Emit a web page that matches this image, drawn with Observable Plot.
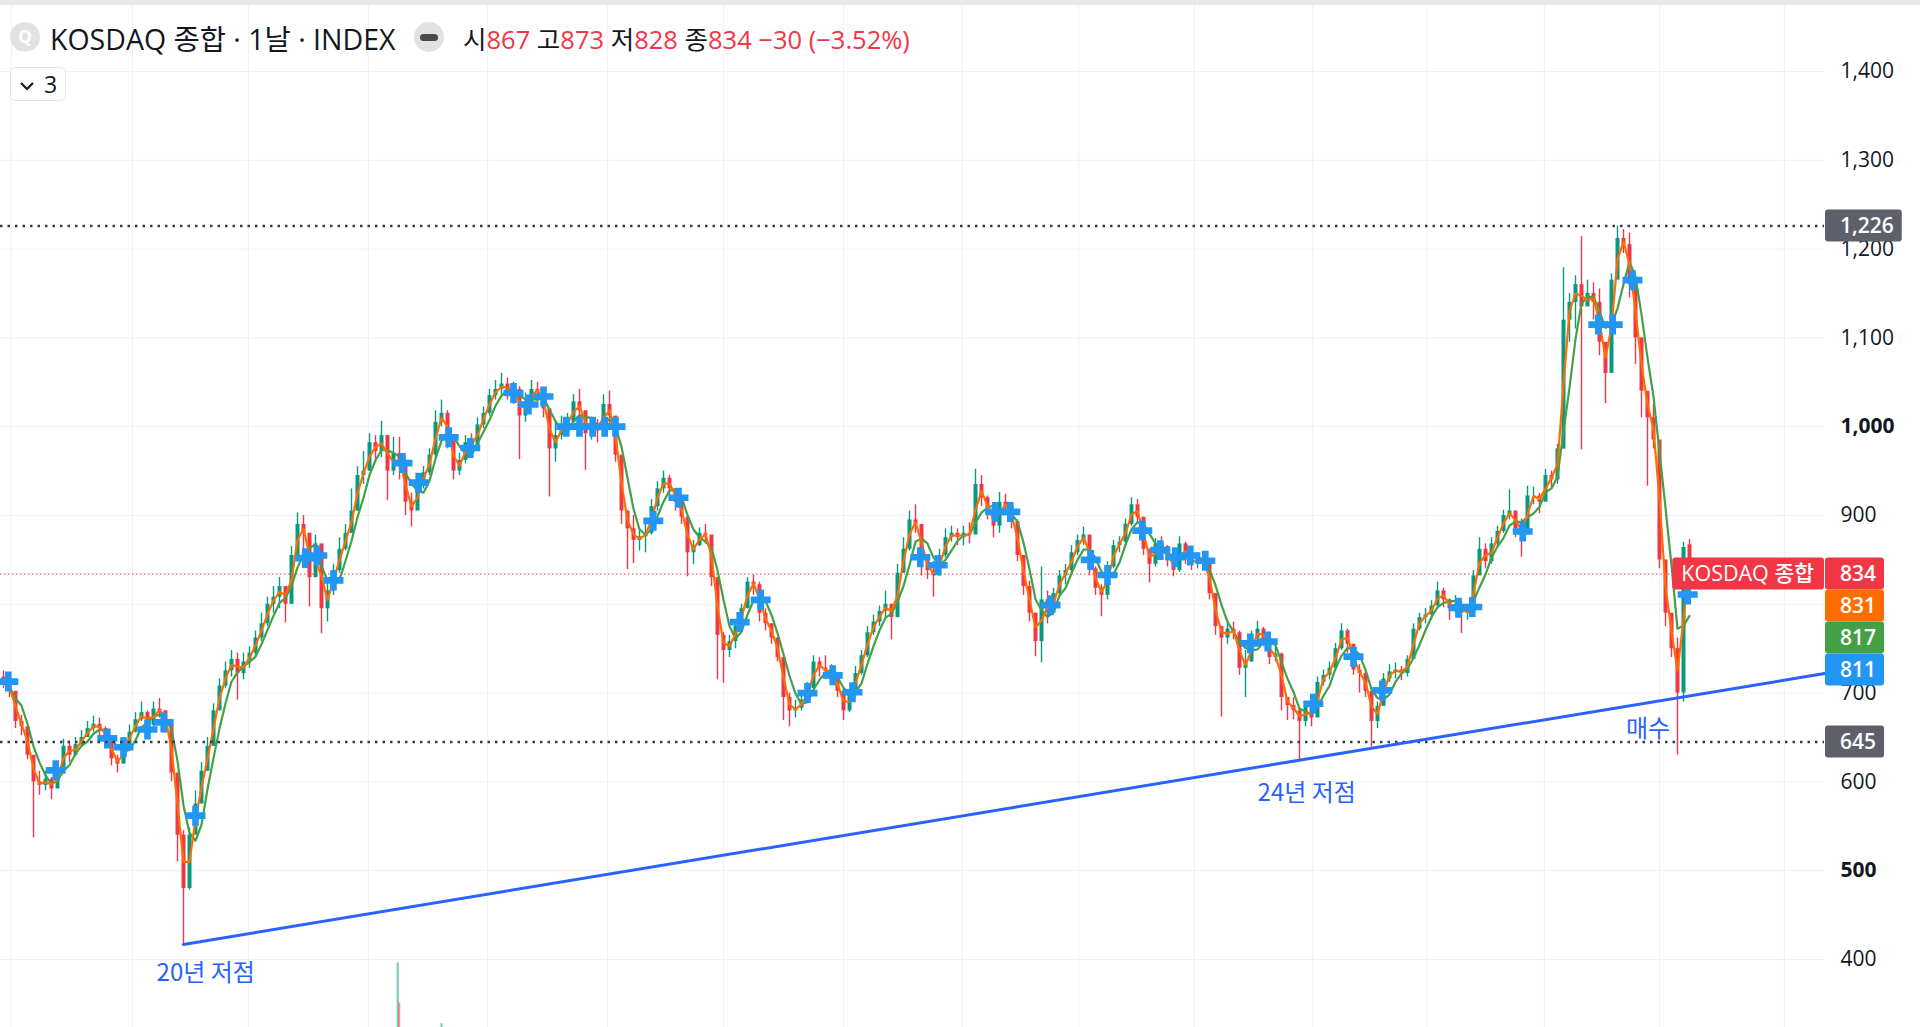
<!DOCTYPE html>
<html>
<head>
<meta charset="utf-8">
<script src="https://cdn.jsdelivr.net/npm/d3@7"></script>
<script src="https://cdn.jsdelivr.net/npm/@observablehq/plot@0.6"></script>
<style>
  html, body { margin: 0; padding: 0; background: #ffffff; overflow: hidden; }
  #wrap { position: relative; width: 1920px; height: 1027px; overflow: hidden; background: #fff;
          font-family: "Open Sans", "Noto Sans CJK KR", sans-serif; color: #131722; }
  #wrap > svg { position: absolute; left: 0; top: 0; }
  .abs { position: absolute; }
  .topband { left: 0; top: 0; width: 1920px; height: 5px; background: #e8e8e8; z-index: 5; }
  .qicon { left: 10px; top: 22px; width: 30px; height: 30px; border-radius: 50%; background: #e2e2e2;
           color: #fff; font-weight: 700; font-size: 17px; line-height: 30px; text-align: center; z-index: 5; }
  .name { left: 50px; top: 37px; transform: translateY(-50%); font-size: 28.5px; white-space: nowrap; z-index: 5; }
  .minus { left: 414px; top: 22px; width: 30px; height: 30px; border-radius: 50%; background: #e2e2e2; z-index: 5; }
  .minus::after { content: ""; position: absolute; left: 6px; top: 12px; width: 18px; height: 7px; border-radius: 4px; background: #4a4a4a; }
  .ohlc { left: 463px; top: 37px; transform: translateY(-50%); font-size: 25.5px; white-space: nowrap; z-index: 5; }
  .ohlc .r { color: #F23645; }
  .legend { left: 10px; top: 67px; width: 56px; height: 34px; border: 1px solid #e0e3eb; border-radius: 5px;
            background: #fff; z-index: 5; box-sizing: border-box; }
  .legend svg { position: absolute; left: 8px; top: 12px; }
  .legend span { position: absolute; left: 33px; top: 50%; transform: translateY(-50%); font-size: 23px; }
</style>
</head>
<body>
<div id="wrap">
  <div class="abs topband"></div>
  <div class="abs qicon">Q</div>
  <div class="abs name">KOSDAQ 종합 · 1날 · INDEX</div>
  <div class="abs minus"></div>
  <div class="abs ohlc">시<span class="r">867</span> 고<span class="r">873</span> 저<span class="r">828</span> 종<span class="r">834</span> <span class="r">−30 (−3.52%)</span></div>
  <div class="abs legend"><svg width="16" height="12"><polyline points="2,3 8,9 14,3" fill="none" stroke="#131722" stroke-width="2.2"/></svg><span>3</span></div>
</div>
<script>
// ---------- DATA (one value per ~5 trading days) ----------
const firstOpen = 718;
const lastOpen = 867;

const closes = [
  712, 702, 668, 662, 630, 600, 596, 603, 592, 614,
  640, 630, 642, 650, 660, 665, 660, 648, 626, 620,
  642, 656, 670, 678, 664, 682, 680, 664, 610, 540,
  480, 540, 575, 612, 640, 680, 708, 725, 738, 722,
  735, 745, 762, 778, 800, 808, 820, 800, 855, 890,
  880, 830, 868, 795, 815, 838, 862, 880, 905, 945,
  950, 982, 972, 990, 950, 970, 955, 915, 905, 935,
  948, 968, 1005, 1015, 985, 950, 962, 982, 978, 1002,
  1015, 1035, 1042, 1048, 1040, 1042, 1012, 1028, 1042, 1040,
  1020, 975, 990, 1002, 1005, 1028, 1018, 992, 1002, 995,
  1025, 1012, 968, 905, 885, 872, 876, 880, 910, 930,
  942, 930, 915, 898, 858, 866, 880, 878, 830, 765,
  748, 758, 775, 795, 825, 822, 790, 778, 762, 740,
  695, 680, 683, 692, 705, 735, 728, 724, 718, 702,
  680, 700, 722, 742, 768, 780, 792, 800, 785, 835,
  862, 895, 890, 850, 838, 832, 855, 875, 880, 875,
  880, 878, 935, 920, 902, 888, 915, 910, 893, 855,
  820, 790, 758, 805, 790, 812, 832, 838, 858, 872,
  878, 840, 818, 810, 842, 866, 870, 890, 912, 898,
  862, 845, 868, 865, 850, 838, 868, 852, 846, 850,
  848, 812, 775, 762, 772, 768, 728, 735, 762, 772,
  760, 740, 744, 695, 686, 680, 668, 684, 672, 712,
  720, 728, 750, 770, 755, 726, 722, 702, 668, 685,
  716, 724, 726, 722, 738, 772, 785, 788, 798, 815,
  805, 795, 800, 790, 792, 832, 862, 848, 868, 882,
  900, 905, 885, 880, 922, 922, 915, 945, 940, 975,
  1120, 1140, 1160, 1135, 1150, 1140, 1095, 1060, 1165, 1212,
  1205, 1160, 1100, 1040, 1010, 985, 850, 790, 750, 700,
  864, 834
];

const highs = [
  725, 714, 700, 675, 662, 625, 612, 612, 605, 622,
  648, 646, 650, 658, 668, 674, 672, 662, 642, 630,
  650, 664, 678, 690, 680, 690, 694, 680, 645, 605,
  545, 548, 590, 622, 650, 688, 716, 735, 748, 745,
  745, 752, 770, 790, 808, 820, 830, 815, 865, 903,
  900, 880, 878, 865, 830, 845, 875, 890, 930, 955,
  972, 992, 990, 1006, 990, 988, 988, 950, 925, 945,
  955, 975, 1018, 1030, 1018, 985, 970, 990, 992, 1010,
  1022, 1042, 1052, 1060, 1055, 1050, 1045, 1038, 1052, 1050,
  1042, 1020, 1005, 1012, 1015, 1036, 1042, 1015, 1010, 1008,
  1036, 1040, 1000, 960, 905, 900, 885, 890, 918, 938,
  950, 945, 930, 912, 895, 872, 886, 890, 872, 800,
  768, 765, 780, 800, 830, 833, 825, 795, 778, 762,
  740, 700, 692, 698, 712, 742, 740, 742, 732, 720,
  705, 705, 730, 748, 775, 788, 798, 815, 800, 845,
  875, 905, 912, 888, 852, 848, 862, 885, 888, 885,
  888, 892, 952, 945, 922, 905, 926, 924, 910, 895,
  855, 826, 790, 842, 815, 818, 838, 845, 866, 878,
  887, 875, 842, 822, 848, 872, 876, 896, 920, 918,
  898, 862, 874, 876, 866, 852, 876, 870, 855, 858,
  858, 848, 808, 775, 778, 780, 770, 748, 770, 781,
  774, 760, 752, 745, 695, 695, 682, 690, 688, 718,
  726, 735, 756, 778, 772, 755, 732, 725, 702, 690,
  722, 732, 734, 730, 742, 778, 790, 795, 804, 825,
  818, 806, 810, 803, 800, 838, 875, 868, 875, 888,
  906, 929, 905, 896, 933, 932, 925, 952, 950, 980,
  1179, 1150, 1170, 1214, 1165, 1162, 1155, 1090, 1172, 1226,
  1222, 1218, 1130, 1070, 1035, 1025, 930, 825, 780, 762,
  870, 873
];

const lows = [
  705, 695, 660, 652, 625, 537, 585, 590, 580, 602,
  612, 622, 628, 640, 650, 656, 652, 640, 618, 610,
  625, 642, 655, 668, 655, 662, 672, 655, 600, 510,
  417, 478, 545, 580, 612, 645, 680, 705, 718, 692,
  715, 728, 740, 758, 775, 790, 795, 779, 800, 850,
  860, 797, 830, 767, 780, 810, 835, 860, 880, 905,
  935, 950, 960, 965, 917, 945, 940, 900, 887, 910,
  930, 945, 965, 1000, 975, 940, 945, 958, 965, 975,
  998, 1012, 1030, 1035, 1030, 1025, 963, 1005, 1022, 1028,
  1010, 921, 960, 985, 990, 1000, 1005, 951, 985, 982,
  990, 1000, 960, 890, 839, 846, 860, 858, 878, 905,
  925, 920, 905, 890, 831, 845, 865, 868, 820, 715,
  711, 740, 750, 772, 795, 810, 780, 770, 755, 735,
  669, 662, 672, 680, 688, 705, 718, 715, 710, 695,
  669, 678, 700, 720, 740, 765, 775, 785, 760, 785,
  835, 860, 880, 832, 828, 808, 832, 852, 870, 866,
  866, 868, 885, 910, 895, 875, 880, 900, 885, 848,
  810, 780, 741, 734, 778, 790, 808, 822, 835, 855,
  866, 832, 810, 786, 805, 840, 858, 866, 888, 890,
  855, 824, 842, 856, 842, 831, 836, 845, 838, 840,
  838, 805, 765, 673, 755, 760, 720, 695, 735, 758,
  752, 732, 735, 680, 669, 670, 624, 662, 662, 675,
  708, 715, 725, 748, 745, 720, 700, 695, 638, 660,
  690, 712, 716, 714, 718, 738, 770, 778, 782, 798,
  796, 782, 790, 767, 782, 795, 835, 840, 845, 865,
  880, 895, 875, 853, 890, 912, 902, 918, 930, 935,
  975, 1095, 1110, 974, 1135, 1120, 1080, 1026, 1085, 1180,
  1195, 1145, 1070, 1010, 933, 975, 840, 775, 740, 630,
  690, 828
];

// blue "+" signal markers (candle position, value)
const crossIdx = [0.8, 8.7, 17.3, 20, 24, 26.7, 32, 50.3, 52.3, 55, 66.5, 69.2, 74.2, 77.8,
  85, 87.5, 90, 93.8, 96, 98.2, 100.2, 102, 108.3, 112.5, 122.7, 126.2, 134, 138.2, 141.5,
  152.8, 155.7, 165.3, 167.8, 174.5, 181.2, 184, 189.8, 192.8, 195.3, 197.8, 200.3, 207.8,
  210.7, 218.3, 225, 229.8, 242.5, 244.8, 253.2, 265.8, 268.2, 271.5, 280.7];
const crossVal = [713, 613, 649, 639, 659, 667, 562, 852, 855, 827, 959, 937, 988, 976,
  1038, 1025, 1034, 1000, 1000, 1000, 1000, 1000, 894, 920, 780, 805, 700, 720, 701,
  853, 844, 904, 904, 799, 850, 833, 883, 861, 853, 855, 849, 756,
  758, 688, 741, 703, 796, 797, 882, 1115, 1115, 1165, 811];

// volume bars visible at the bottom edge
const volIdx = [65.7, 65.95, 73];
const volVal = [6.1, 3.6, 2.3];
const volUp = [true, false, true];

// price axis ticks (grid), labelled ticks, and time grid positions
const yTicks = [400, 500, 600, 700, 800, 900, 1000, 1100, 1200, 1300, 1400];
const yTickLabels = [400, 600, 700, 900, 1100, 1200, 1300, 1400]; // 800 sits under the price labels
const yTicksBold = [500, 1000];
const timeTicks = [1.3, 21.5, 40.8, 60.8, 80.7, 100.7, 120, 140, 159.8, 179.2, 198.5, 218.2, 237.2, 256.8, 276, 296.8];

// horizontal levels and the trend line
const levelHigh = 1226;
const levelLow = 645;
const trendIdx = [30, 303.5];
const trendVal = [417, 722];

// annotations
const noteText = ["20년 저점", "24년 저점", "매수"];
const noteIdx = [33.7, 217.2, 274.1];
const noteVal = [385, 587, 659];

// right-side price labels
const seriesName = "KOSDAQ 종합";
const lastLabels = [834, 831, 817, 811];
const lastColors = ["#F23645", "#FF6D00", "#43A047", "#2196F3"];

// ---------- BUILD ----------
const UP = "#089981", DOWN = "#F23645";
const GRID = "#f0f1f4";
const FONT = '"Open Sans", "Noto Sans CJK KR", sans-serif';
const KFONT = '"Noto Sans CJK KR", sans-serif';
const X0 = -0.5, X1 = 303.5;

const candles = closes.map((c, i) => {
  const open = i === 0 ? firstOpen : (i === closes.length - 1 ? lastOpen : closes[i - 1]);
  return {i, open, close: c, high: highs[i], low: lows[i], col: c >= open ? UP : DOWN};
});
const crosses = crossIdx.map((i, k) => ({i, v: crossVal[k]}));
const trend = trendIdx.map((i, k) => ({i, v: trendVal[k]}));
const notes = noteText.map((t, k) => ({t, i: noteIdx[k], v: noteVal[k]}));
const vols = volIdx.map((i, k) => ({i, v: volVal[k], col: volUp[k] ? "rgba(8,153,129,0.55)" : "rgba(242,54,69,0.55)"}));

const wrap = document.getElementById("wrap");

// volume overlay (own scale, drawn under the price pane)
const volPlot = Plot.plot({
  width: 1920, height: 1100,
  marginLeft: 0, marginRight: 96, marginTop: 900, marginBottom: 40,
  x: {domain: [X0, X1], axis: null},
  y: {domain: [0, 10], axis: null},
  color: {type: "identity"},
  style: {background: "transparent"},
  marks: [
    Plot.ruleX(vols, {x: "i", y1: 0, y2: "v", stroke: "col", strokeWidth: 2})
  ]
});
wrap.insertBefore(volPlot, wrap.firstChild);

const plot = Plot.plot({
  width: 1920, height: 1027,
  marginLeft: 0, marginRight: 96, marginTop: 71, marginBottom: 68,
  x: {domain: [X0, X1], axis: null},
  y: {domain: [400, 1400]},
  color: {type: "identity"},
  style: {background: "transparent", fontFamily: FONT, fontSize: "21px", color: "#131722"},
  marks: [
    Plot.ruleY(yTicks, {x1: X0, x2: X1, stroke: GRID, strokeWidth: 1}),
    Plot.ruleX(timeTicks, {y1: 300, y2: 1500, stroke: GRID, strokeWidth: 1}),
    Plot.ruleY([closes[closes.length - 1]], {x1: X0, x2: X1, stroke: "#F23645", strokeWidth: 1, strokeDasharray: "1.5,2.5"}),
    Plot.ruleX(candles, {x: "i", y1: "low", y2: "high", stroke: "col", strokeWidth: 1.4}),
    Plot.ruleX(candles, {x: "i", y1: "open", y2: "close", stroke: "col", strokeWidth: 4}),
    Plot.lineY(candles, Plot.windowY({k: 4, anchor: "end", reduce: "mean"}, {x: "i", y: "close", stroke: "#43A047", strokeWidth: 2.2})),
    Plot.lineY(candles, Plot.windowY({k: 2, anchor: "end", reduce: "mean"}, {x: "i", y: "close", stroke: "#FF6D00", strokeWidth: 2.2})),
    Plot.dot(crosses, {x: "i", y: "v", symbol: "cross", r: 8.4, fill: "#2196F3"}),
    Plot.ruleY([levelHigh, levelLow], {x1: X0, x2: X1, stroke: "#363a45", strokeWidth: 2.5, strokeDasharray: "2.5,5"}),
    Plot.line(trend, {x: "i", y: "v", stroke: "#2962FF", strokeWidth: 3}),
    Plot.text(notes, {x: "i", y: "v", text: "t", fill: "#2962FF", fontSize: 24, fontFamily: KFONT}),
    Plot.axisY(yTickLabels, {anchor: "right", tickSize: 0, tickPadding: 16, tickFormat: d3.format(","), label: null, fill: "#131722"}),
    Plot.axisY(yTicksBold, {anchor: "right", tickSize: 0, tickPadding: 16, tickFormat: d3.format(","), label: null, fill: "#131722", fontWeight: "bold"})
  ]
});
wrap.insertBefore(plot, volPlot.nextSibling);

// ---------- right-side price labels, placed with the plot's own scales ----------
const ys = plot.scale("y"), xs = plot.scale("x");
const xr = xs.apply(X1);
const svg = d3.select(plot);
const lab = svg.append("g").attr("font-family", FONT).attr("font-size", 21).attr("font-weight", 600)
  .attr("text-anchor", "start");
const BOXH = 32;

function priceBox(yc, txt, fill) {
  const g = lab.append("g");
  const t = g.append("text").attr("x", xr + 16).attr("y", yc).attr("dy", "0.36em")
    .attr("text-anchor", "start").attr("fill", "#fff").text(txt);
  const w = t.node().getComputedTextLength();
  g.insert("rect", "text").attr("x", xr + 1).attr("y", yc - BOXH / 2).attr("width", 15 + w + 8)
    .attr("height", BOXH).attr("rx", 3).attr("fill", fill);
}

priceBox(ys.apply(levelHigh), d3.format(",")(levelHigh), "#5d606b");
priceBox(ys.apply(levelLow), d3.format(",")(levelLow), "#5d606b");
const y0 = ys.apply(lastLabels[0]);
lastLabels.forEach((v, k) => priceBox(y0 + k * BOXH, String(v), lastColors[k]));

// series name label
{
  const g = lab.append("g");
  const t = g.append("text").attr("x", xr - 10).attr("y", y0).attr("dy", "0.36em").attr("text-anchor", "end")
    .attr("fill", "#fff").attr("font-weight", 500).attr("font-size", 21.5).text(seriesName);
  const w = t.node().getComputedTextLength();
  g.insert("rect", "text").attr("x", xr - w - 19).attr("y", y0 - BOXH / 2).attr("width", w + 19)
    .attr("height", BOXH).attr("rx", 3).attr("fill", "#F23645");
}
</script>
</body>
</html>
